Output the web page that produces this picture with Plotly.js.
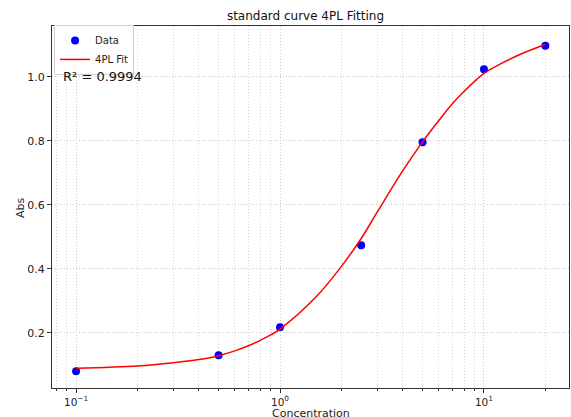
<!DOCTYPE html>
<html>
<head>
<meta charset="utf-8">
<script src="https://cdn.plot.ly/plotly-3.0.1.min.js"></script>
<style>html,body{margin:0;padding:0;background:#fff;}#chart{width:571px;height:417px;}</style>
</head>
<body>
<div id="chart"></div>
<script>
// Measured data points
const dataX = [0.1, 0.5, 1, 2.5, 5, 10, 20];
const dataY = [0.080, 0.130, 0.218, 0.474, 0.796, 1.024, 1.097];
// 4PL fit curve
const fitX = [0.1, 0.2, 0.3, 0.4, 0.5, 0.6, 0.7, 0.8, 0.9, 1, 1.5, 2, 2.5, 3, 4, 5, 6, 7, 8, 10, 12, 15, 20];
const fitY = [0.090, 0.097, 0.107, 0.117, 0.129, 0.144, 0.160, 0.177, 0.194, 0.212, 0.312, 0.408, 0.495, 0.578, 0.707, 0.797, 0.863, 0.916, 0.955, 1.011, 1.040, 1.070, 1.101];
const xTickVals = [0.1, 1, 10];
const xTickText = ['10<sup>−1</sup>', '10<sup>0</sup>', '10<sup>1</sup>'];
const xMinorVals = [0.08, 0.09, 0.2, 0.3, 0.4, 0.5, 0.6, 0.7, 0.8, 0.9, 2, 3, 4, 5, 6, 7, 8, 9, 20];
const yTickVals = [0.2, 0.4, 0.6, 0.8, 1.0];
const rSquared = '0.9994';
const xTitle = 'Concentration';
const yTitle = 'Abs';

const traces = [
  {x: dataX, y: dataY, type: 'scatter', mode: 'markers', name: 'Data',
   marker: {color: 'blue', size: 8}},
  {x: fitX, y: fitY, type: 'scatter', mode: 'lines', name: '4PL Fit',
   line: {color: 'red', width: 1.5, shape: 'spline', smoothing: 1}}
];
const gridStyle = {gridcolor: '#c8c8c8', griddash: '1px,2px', gridwidth: 1};
const layout = {
  width: 571, height: 417,
  margin: {l: 52, r: 2, t: 26, b: 29},
  paper_bgcolor: '#fff', plot_bgcolor: '#fff',
  font: {family: 'DejaVu Sans', size: 10, color: '#222'},
  title: {text: 'standard curve 4PL Fitting', font: {size: 12, color: '#111'}, x: 0.535, xanchor: 'center', y: 0.962, yanchor: 'middle'},
  showlegend: true,
  legend: {x: 0.004, y: 1.003, xanchor: 'left', yanchor: 'top', bgcolor: 'rgba(255,255,255,0.9)',
           bordercolor: '#d0d0d0', borderwidth: 1, font: {size: 10}, itemwidth: 30, tracegroupgap: 0},
  xaxis: Object.assign({
    type: 'log', range: [-1.118, 1.417], tickvals: xTickVals, ticktext: xTickText,
    ticks: 'outside', ticklen: 4, tickcolor: '#333', showline: true, linecolor: '#333', linewidth: 1, mirror: true,
    zeroline: false, tickfont: {size: 10.5},
    minor: {tickvals: xMinorVals, ticks: 'outside', ticklen: 2, tickcolor: '#333', showgrid: true, gridcolor: '#d6d6d6', griddash: '1px,2px'}
  }, gridStyle),
  yaxis: Object.assign({
    range: [0.028, 1.159], tickvals: yTickVals, tickformat: '.1f',
    ticks: 'outside', ticklen: 4, tickcolor: '#333', showline: true, linecolor: '#333', linewidth: 1, mirror: true,
    zeroline: false, tickfont: {size: 11}
  }, gridStyle),
  annotations: [
    {text: 'R² = ' + rSquared, xref: 'paper', yref: 'y', x: 0.018, y: 1.0,
     xanchor: 'left', yanchor: 'middle', showarrow: false, font: {size: 13, color: '#111'}},
    {text: xTitle, xref: 'paper', yref: 'paper', x: 0.5, y: -0.071,
     xanchor: 'center', yanchor: 'middle', showarrow: false, borderpad: 0, font: {size: 11, color: '#222'}},
    {text: yTitle, xref: 'paper', yref: 'paper', x: -0.062, y: 0.5, textangle: -90,
     xanchor: 'center', yanchor: 'middle', showarrow: false, font: {size: 11, color: '#222'}}
  ]
};
Plotly.newPlot('chart', traces, layout, {displayModeBar: false, staticPlot: true});
</script>
</body>
</html>
